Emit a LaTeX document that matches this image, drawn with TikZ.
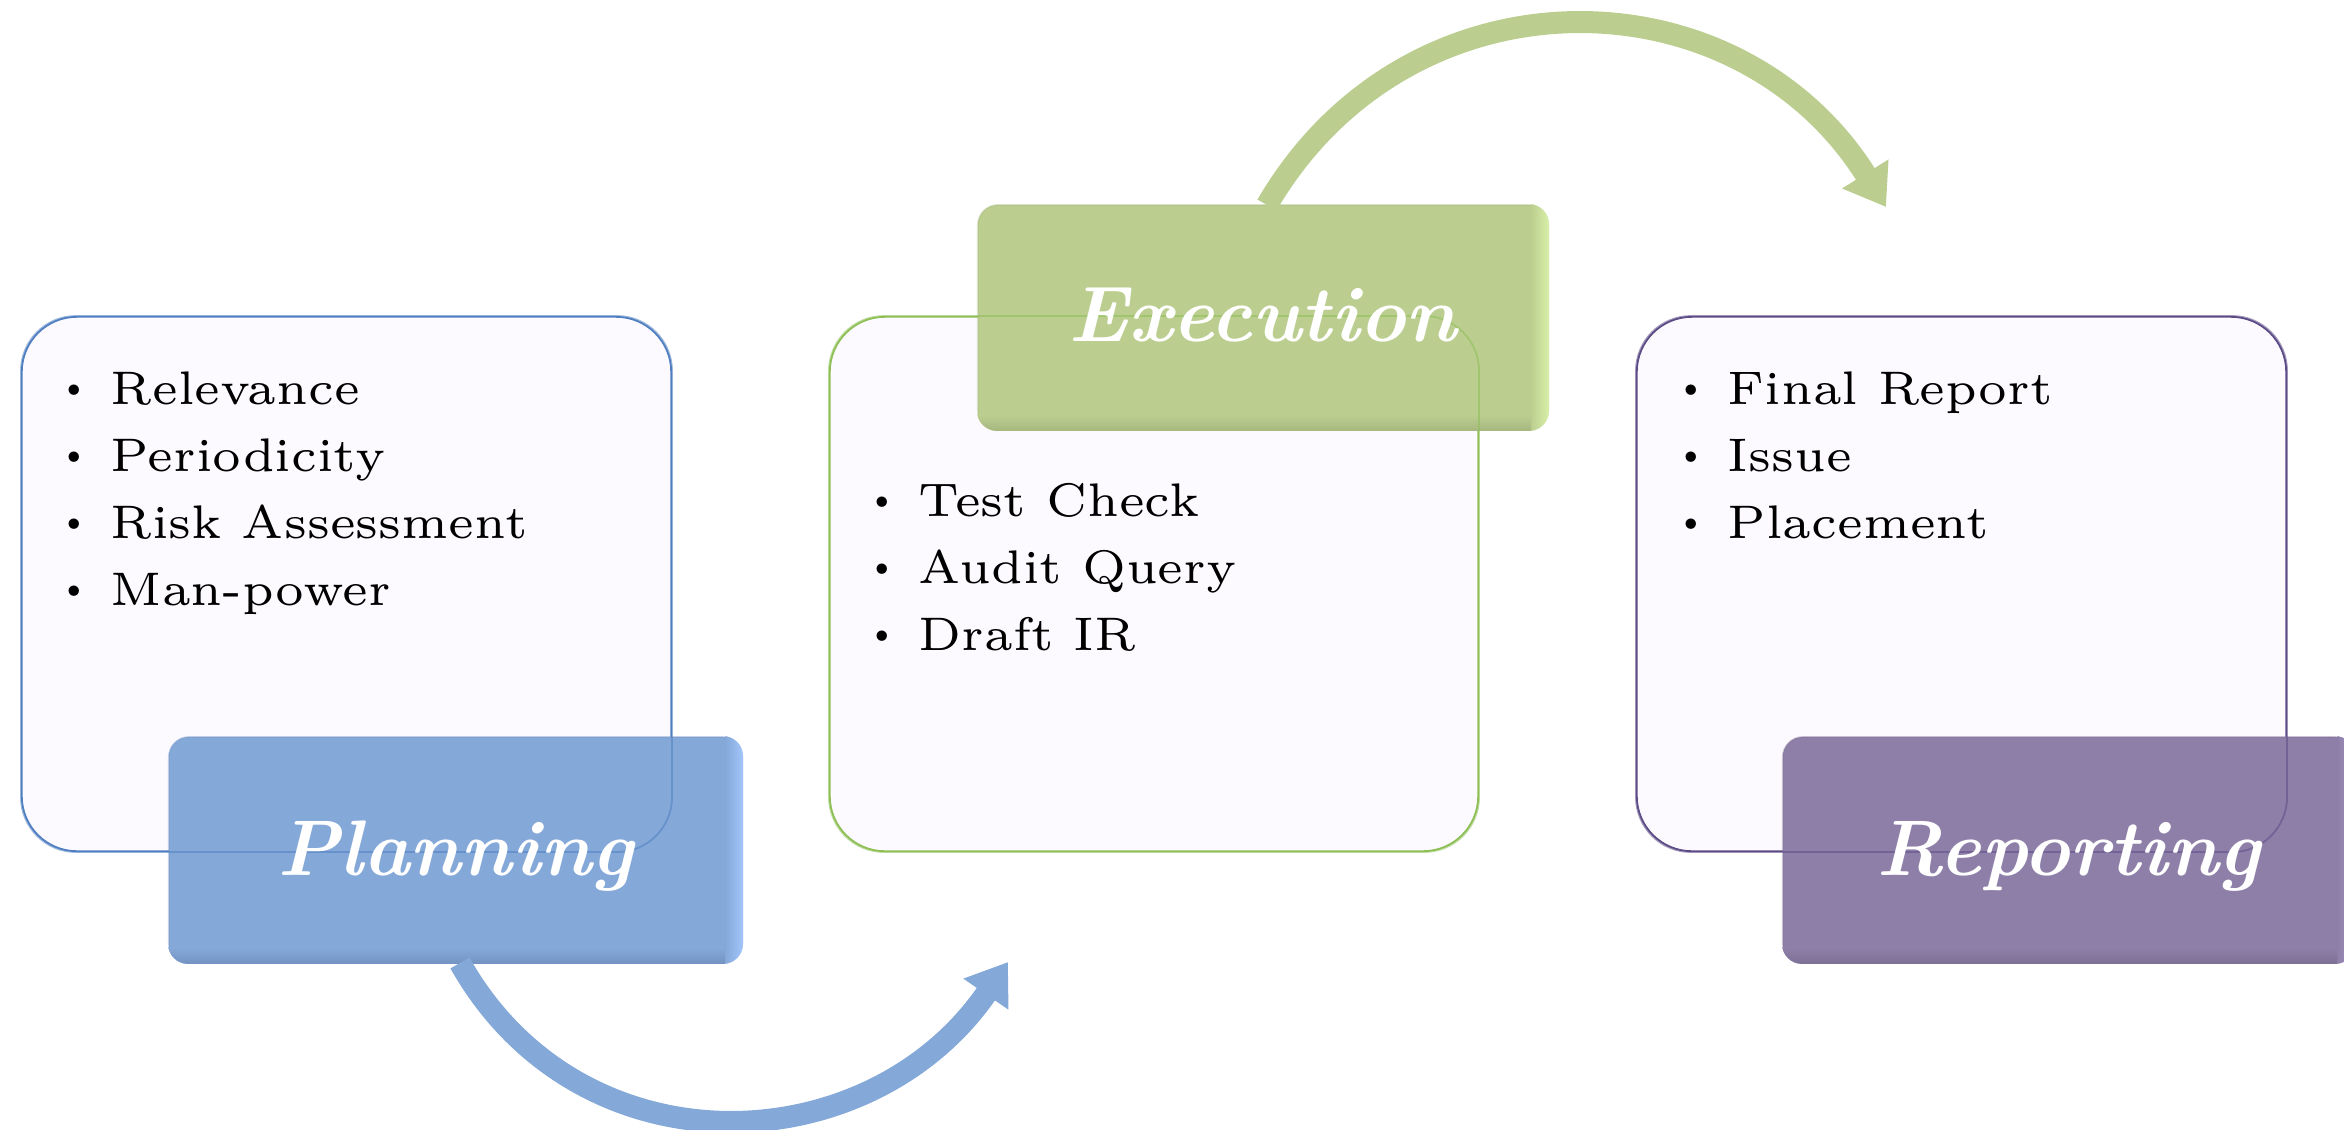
\documentclass[tikz,border=0pt]{standalone}
\usepackage{fontspec}
\newfontfamily\lmsix{lmroman6-regular.otf}
\usetikzlibrary{arrows.meta,calc}
\definecolor{boxfill}{HTML}{FCFAFE}
\definecolor{planline}{HTML}{4F7FC0}
\definecolor{planmain}{HTML}{84A8D8}
\definecolor{planlight}{HTML}{A2C6FA}
\definecolor{plandark}{HTML}{7393C2}
\definecolor{execline}{HTML}{8DBF55}
\definecolor{execmain}{HTML}{BBCE8F}
\definecolor{execlight}{HTML}{D8F0A8}
\definecolor{execdark}{HTML}{A6B77F}
\definecolor{repline}{HTML}{5C4B86}
\definecolor{repmain}{HTML}{8E7FA8}
\definecolor{replight}{HTML}{A796C6}
\definecolor{repdark}{HTML}{7D7095}
\newcommand{\bul}{\llap{\makebox[0pt]{\raisebox{1.25pt}{\rmfamily\fontsize{11}{11}\selectfont\textbullet}}\hspace{10.5pt}}}
\newcommand{\rimbox}[4]{%
  \begin{scope}
    \clip[rounded corners=0.2cm] (#1.south west) rectangle (#1.north east);
    \shade[left color=#2, right color=#3] ($(#1.north east)+(-18,0)$) rectangle (#1.south east);
    \shade[top color=#2, bottom color=#4] ($(#1.south west)+(0,-16)$) rectangle ($(#1.south east)+(-18,0)$);
  \end{scope}}
\begin{document}
\begin{tikzpicture}[x=0.01cm,y=-0.01cm,
  contentbox/.style={rectangle, rounded corners=0.55cm, fill=boxfill, line width=0.5pt, inner sep=0pt},
  labelbox/.style={rectangle, rounded corners=0.2cm, inner sep=0pt, draw opacity=0.35, line width=0.5pt},
  listtext/.style={inner sep=0pt, anchor=base west, text=black, font=\lmsix\fontsize{13.4}{19.06}\selectfont},
  labeltext/.style={inner sep=0pt, anchor=base, text=white, font=\fontsize{22.4}{25}\selectfont\bfseries\itshape},
  overline/.style={line width=0.5pt, rounded corners=0.55cm, draw opacity=0.55},
  flowarrow/.style={line width=0.22cm, -{Triangle[length=0.39cm, width=0.52cm]}}
]
\useasboundingbox (0,0) rectangle (2344,1129);
\clip (0,0) rectangle (2344,1129);

% content boxes
\node[contentbox, draw=planline, minimum width=6.49cm, minimum height=5.34cm] (pbox) at (346.5,584) {};
\node[contentbox, draw=execline, minimum width=6.48cm, minimum height=5.34cm] (ebox) at (1154,584) {};
\node[contentbox, draw=repline, minimum width=6.49cm, minimum height=5.34cm] (rbox) at (1961.5,584) {};

% bullet lists
\node[listtext] (plist) at (110,404) {\begin{tabular}[t]{@{}l@{}}\bul Relevance\\ \bul Periodicity\\ \bul Risk Assessment\\ \bul Man-power\end{tabular}};
\node[listtext] (elist) at (918,516) {\begin{tabular}[t]{@{}l@{}}\bul Test Check\\ \bul Audit Query\\ \bul Draft IR\end{tabular}};
\node[listtext] (rlist) at (1727,404) {\begin{tabular}[t]{@{}l@{}}\bul Final Report\\ \bul Issue\\ \bul Placement\end{tabular}};

% label boxes
\node[labelbox, fill=planmain, draw=plandark, minimum width=5.73cm, minimum height=2.26cm] (plab) at (455.5,850) {};
\rimbox{plab}{planmain}{planlight}{plandark}
\node[labelbox, fill=execmain, draw=execdark, minimum width=5.70cm, minimum height=2.25cm] (elab) at (1263,317.5) {};
\rimbox{elab}{execmain}{execlight}{execdark}
\node[labelbox, fill=repmain, draw=repdark, minimum width=5.71cm, minimum height=2.26cm] (rlab) at (2068.5,850) {};
\rimbox{rlab}{repmain}{replight}{repdark}

% content borders seen through the labels
\draw[overline, planline] (pbox.south west) rectangle (pbox.north east);
\draw[overline, execline] (ebox.south west) rectangle (ebox.north east);
\draw[overline, repline] (rbox.south west) rectangle (rbox.north east);

% label texts
\node[labeltext] (ptext) at ($(plab.center)+(0,25)$) {Planning};
\node[labeltext] (etext) at ($(elab.center)+(0,24)$) {Execution};
\node[labeltext] (rtext) at ($(rlab.center)+(0,25)$) {Reporting};

% arrows
\coordinate (bstart) at ($(plab.south west)+(292,-1)$);
\coordinate (bend) at (1008,962);
\draw[flowarrow, planmain] (bstart) .. controls (580,1176) and (869,1164) .. (bend);
\coordinate (gstart) at ($(elab.north west)+(290,1)$);
\coordinate (gend) at (1886,207);
\draw[flowarrow, execmain] (gstart) .. controls (1408,-37) and (1737,-31) .. (gend);
\end{tikzpicture}
\end{document}
